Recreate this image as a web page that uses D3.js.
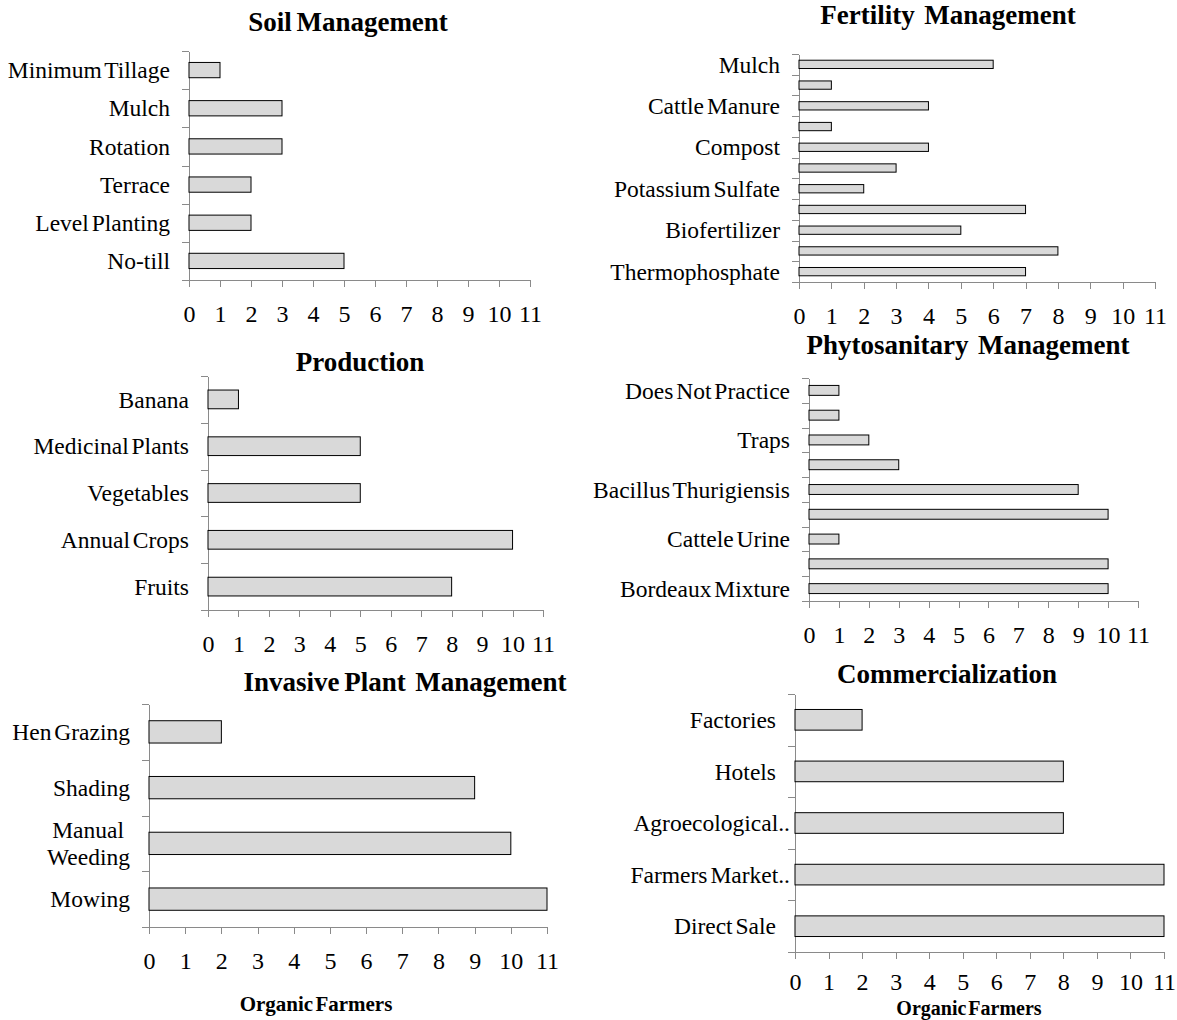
<!DOCTYPE html>
<html>
<head>
<meta charset="utf-8">
<script src="https://cdn.jsdelivr.net/npm/d3@7"></script>
<style>
  body { margin: 0; background: #fff; }
  svg { display: block; font-family: "Liberation Serif", "Times New Roman", serif; }
  svg text { white-space: pre; }
  .axis path, .axis line { stroke: #8a8a8a; }
  .axis text { fill: #000; font-size: 24px; font-family: "Liberation Serif", serif; }
</style>
</head>
<body>
<script>
// category labels (top to bottom) and farmer counts
// unlabeled rows are categories whose names Excel skipped
const soilLabels = ['Minimum Tillage', 'Mulch', 'Rotation', 'Terrace', 'Level Planting', 'No-till'];
const soilValues = [1, 3, 3, 2, 2, 5];

const fertilityLabels = ['Mulch', '', 'Cattle Manure', '', 'Compost', '', 'Potassium Sulfate', '', 'Biofertilizer', '', 'Thermophosphate'];
const fertilityValues = [6, 1, 4, 1, 4, 3, 2, 7, 5, 8, 7];

const productionLabels = ['Banana', 'Medicinal Plants', 'Vegetables', 'Annual Crops', 'Fruits'];
const productionValues = [1, 5, 5, 10, 8];

const phytoLabels = ['Does Not Practice', '', 'Traps', '', 'Bacillus Thurigiensis', '', 'Cattele Urine', '', 'Bordeaux Mixture'];
const phytoValues = [1, 1, 2, 3, 9, 10, 1, 10, 10];

const invasiveLabels = ['Hen Grazing', 'Shading', 'Manual\nWeeding', 'Mowing'];
const invasiveValues = [2, 9, 10, 11];

const commercialLabels = ['Factories', 'Hotels', 'Agroecological..', 'Farmers Market..', 'Direct Sale'];
const commercialValues = [2, 8, 8, 11, 11];

const xTicks = [0, 1, 2, 3, 4, 5, 6, 7, 8, 9, 10, 11];
const xAxisTitle = 'Organic Farmers';

const panels = [
  { title: 'Soil Management', labels: soilLabels, values: soilValues,
    left: 189, right: 530, top: 51, bottom: 280, tx: 348, ty: 31, pad: 18 },
  { title: 'Fertility  Management', labels: fertilityLabels, values: fertilityValues,
    left: 799, right: 1155, top: 54, bottom: 282, tx: 948, ty: 24, pad: 18 },
  { title: 'Production', labels: productionLabels, values: productionValues,
    left: 208, right: 543, top: 376, bottom: 610, tx: 360, ty: 371, pad: 18 },
  { title: 'Phytosanitary  Management', labels: phytoLabels, values: phytoValues,
    left: 809, right: 1138, top: 378, bottom: 601, tx: 968, ty: 354, pad: 18 },
  { title: 'Invasive Plant  Management', labels: invasiveLabels, values: invasiveValues,
    left: 149, right: 547, top: 704, bottom: 927, tx: 405, ty: 691, pad: 18,
    axisTitle: [316, 1011], axisSize: 21 },
  { title: 'Commercialization', labels: commercialLabels, values: commercialValues,
    left: 795, right: 1164, top: 694, bottom: 952, tx: 947, ty: 683, pad: 14,
    axisTitle: [969, 1015], axisSize: 20 }
];

const svg = d3.select('body').append('svg')
  .attr('width', 1177)
  .attr('height', 1020);

panels.forEach(p => {
  const g = svg.append('g');
  const n = p.labels.length;

  const x = d3.scaleLinear()
    .domain([0, 11])
    .range([p.left, p.right]);

  const y = d3.scaleBand()
    .domain(d3.range(n))
    .range([p.top, p.bottom])
    .paddingInner(0.6)
    .paddingOuter(0.3);

  // category boundary ticks on the y axis
  const yEdges = d3.scaleLinear().domain([0, n]).range([p.top, p.bottom]);
  g.append('g')
    .attr('class', 'axis')
    .attr('transform', 'translate(' + p.left + ',0)')
    .attr('shape-rendering', 'crispEdges')
    .call(d3.axisLeft(yEdges).tickValues(d3.range(n + 1)).tickSize(7).tickSizeOuter(0).tickFormat(''));

  // x axis
  g.append('g')
    .attr('class', 'axis')
    .attr('transform', 'translate(0,' + p.bottom + ')')
    .attr('shape-rendering', 'crispEdges')
    .call(d3.axisBottom(x).tickValues(xTicks).tickSize(7).tickSizeOuter(0).tickPadding(p.pad));

  g.selectAll('.domain').attr('stroke', '#8a8a8a');

  // bars
  g.selectAll('rect.bar')
    .data(p.values)
    .join('rect')
    .attr('class', 'bar')
    .attr('x', x(0))
    .attr('y', (d, i) => y(i))
    .attr('width', d => x(d) - x(0))
    .attr('height', y.bandwidth())
    .attr('fill', '#d9d9d9')
    .attr('stroke', '#000')
    .attr('stroke-width', 1);

  // category labels
  p.labels.forEach((lab, i) => {
    if (!lab) return;
    const lines = lab.split('\n');
    const cy = y(i) + y.bandwidth() / 2;
    const tx = lab.endsWith('..') ? p.left - 5 : p.left - 19;
    const t = g.append('text')
      .attr('text-anchor', 'end')
      .attr('font-size', 23.5)
      .attr('word-spacing', -3)
      .attr('fill', '#000');
    lines.forEach((ln, k) => {
      t.append('tspan')
        .attr('x', k === 0 && lines.length > 1 ? tx - 6 : tx)
        .attr('y', cy + (k - (lines.length - 1) / 2) * 27)
        .attr('dy', '0.35em')
        .text(ln);
    });
  });

  // panel title
  g.append('text')
    .attr('x', p.tx)
    .attr('y', p.ty)
    .attr('text-anchor', 'middle')
    .attr('font-size', 27)
    .attr('font-weight', 'bold')
    .attr('word-spacing', -2)
    .text(p.title);

  if (p.axisTitle) {
    g.append('text')
      .attr('x', p.axisTitle[0])
      .attr('y', p.axisTitle[1])
      .attr('text-anchor', 'middle')
      .attr('font-size', p.axisSize)
      .attr('font-weight', 'bold')
      .attr('word-spacing', -3)
      .text(xAxisTitle);
  }
});
</script>
</body>
</html>
